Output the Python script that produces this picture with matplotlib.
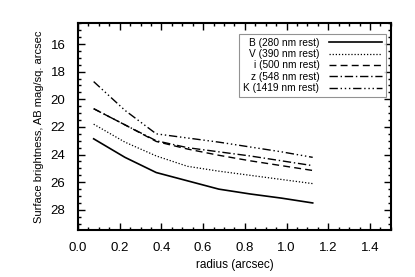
import numpy as np
import matplotlib
matplotlib.use("Agg")
import matplotlib.pyplot as plt
from matplotlib.ticker import MultipleLocator

plt.rcParams["font.family"] = ["Liberation Sans", "DejaVu Sans"]

# ==========================
# DATA
# ==========================
radius = [0.075, 0.225, 0.375, 0.525, 0.675, 0.825, 0.975, 1.125]

sb_B = [22.86, 24.2, 25.3, 25.9, 26.5, 26.85, 27.15, 27.5]
sb_V = [21.8, 23.1, 24.1, 24.85, 25.2, 25.5, 25.8, 26.1]
sb_i = [20.68, 21.85, 23.05, 23.6, 24.05, 24.45, 24.8, 25.15]
sb_z = [20.68, 21.85, 23.0, 23.5, 23.8, 24.1, 24.45, 24.8]
sb_K = [18.72, 20.8, 22.5, 22.8, 23.1, 23.45, 23.8, 24.2]

labels = ["B (280 nm rest)", "V (390 nm rest)", "i (500 nm rest)",
          "z (548 nm rest)", "K (1419 nm rest)"]
styles = ["-", (0, (1, 1.5)), (0, (5, 3)), (0, (6, 2, 1, 2)),
          (0, (6, 2, 1, 2, 1, 2, 1, 2))]
widths = [1.2, 0.9, 1.0, 1.0, 1.0]

# ==========================
# PLOT
# ==========================
fig = plt.figure(figsize=(4.15, 2.77), dpi=100)
ax = fig.add_axes([0.188, 0.170, 0.754, 0.746])

for y, lab, ls, lw in zip([sb_B, sb_V, sb_i, sb_z, sb_K], labels, styles, widths):
    ax.plot(radius, y, color="black", lw=lw, linestyle=ls, label=lab)

ax.set_xlim(0, 1.5)
ax.set_ylim(29.45, 14.5)

ax.xaxis.set_major_locator(MultipleLocator(0.2))
ax.xaxis.set_minor_locator(MultipleLocator(0.05))
ax.yaxis.set_major_locator(MultipleLocator(2))
ax.yaxis.set_minor_locator(MultipleLocator(0.5))
ax.xaxis.set_major_formatter(plt.FormatStrFormatter("%.1f"))

ax.tick_params(which="both", direction="in", top=True, right=True, width=1.0)
ax.tick_params(which="major", length=5, labelsize=9.5, pad=9)
ax.tick_params(which="minor", length=2.5)
for s in ax.spines.values():
    s.set_linewidth(1.5)

ax.set_xlabel("radius (arcsec)", fontsize=8.5, labelpad=3)
ax.set_ylabel("Surface brightness, AB mag/sq. arcsec", fontsize=8, labelpad=5)

leg = ax.legend(loc="upper right", bbox_to_anchor=(0.985, 0.95), fontsize=7.3,
                markerfirst=False, frameon=True, fancybox=False,
                handlelength=5.2, labelspacing=0.14, borderpad=0.4,
                handletextpad=1.0, borderaxespad=0.0)
leg.get_frame().set_edgecolor("#777777")
leg.get_frame().set_linewidth(0.8)

plt.savefig("out.png", dpi=100)
plt.close()
